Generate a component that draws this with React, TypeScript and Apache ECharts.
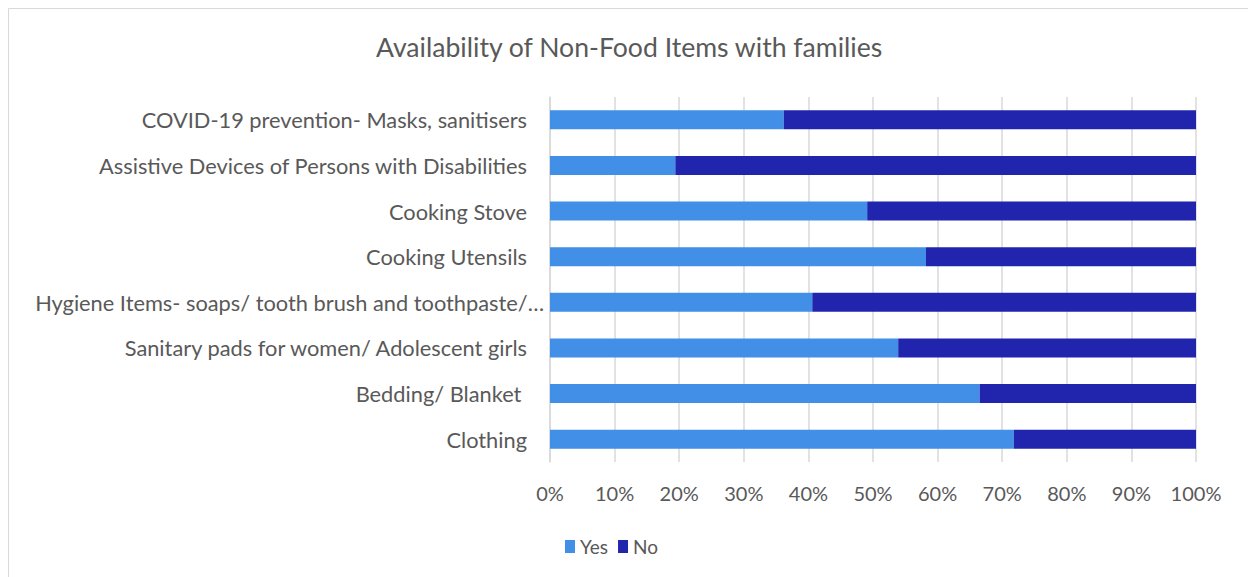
import React, { useEffect, useRef } from "react";
import * as echarts from "echarts";

const categories = [
  "COVID-19 prevention- Masks, sanitisers",
  "Assistive Devices of Persons with Disabilities",
  "Cooking Stove",
  "Cooking Utensils",
  "Hygiene Items- soaps/ tooth brush and toothpaste/…",
  "Sanitary pads for women/ Adolescent girls",
  "Bedding/ Blanket ",
  "Clothing",
];
const yesValues = [36.2, 19.4, 49.1, 58.2, 40.6, 53.9, 66.5, 71.8];
const noValues = [63.8, 80.6, 50.9, 41.8, 59.4, 46.1, 33.5, 28.2];
const seriesNames = ["Yes", "No"];
const FONT = "Lato, 'Open Sans', sans-serif";

export default function App() {
  const ref = useRef<HTMLDivElement>(null);
  useEffect(() => {
    if (!ref.current) return;
    const chart = echarts.init(ref.current, null, { renderer: "svg" });
    chart.setOption({
      animation: false,
      backgroundColor: "#ffffff",
      textStyle: { fontFamily: FONT },
      title: {
        text: "Availability of Non-Food Items with families",
        left: 371,
        top: 28,
        textStyle: { fontFamily: FONT, fontSize: 26.6, fontWeight: "normal", color: "#595959" },
      },
      graphic: [
        {
          type: "rect",
          shape: { x: 8.5, y: 8.5, width: 1300, height: 700 },
          style: { fill: "none", stroke: "#d9d9d9", lineWidth: 1 },
          silent: true,
        },
      ],
      legend: {
        data: seriesNames,
        bottom: 16,
        left: 560,
        icon: "rect",
        itemWidth: 10,
        itemHeight: 13,
        itemGap: 10,
        textStyle: { fontFamily: FONT, fontSize: 19, color: "#595959" },
      },
      grid: { left: 550, right: 52, top: 97, bottom: 115, containLabel: false },
      xAxis: {
        type: "value",
        min: 0,
        max: 100,
        interval: 10,
        axisLabel: {
          formatter: "{value}%",
          fontFamily: FONT,
          fontSize: 20,
          color: "#595959",
          margin: 21,
        },
        axisLine: { show: false },
        axisTick: { show: false },
        splitLine: { show: true, lineStyle: { color: "#d9d9d9", width: 1.5 } },
      },
      yAxis: {
        type: "category",
        data: categories,
        inverse: true,
        axisLabel: {
          fontFamily: FONT,
          fontSize: 21.8,
          color: "#595959",
          margin: 23,
          formatter: (v: string) => (v.indexOf("Hygiene") === 0 ? "{h|" + v + "}" : v),
          rich: {
            h: {
              fontFamily: FONT,
              fontSize: 21.8,
              color: "#595959",
              padding: [0, -17, 0, 0],
            },
          },
        },
        axisLine: { show: true, lineStyle: { color: "#d9d9d9", width: 1.5 } },
        axisTick: { show: false },
      },
      series: [
        {
          name: seriesNames[0],
          type: "bar",
          stack: "total",
          data: yesValues,
          barWidth: 19,
          itemStyle: { color: "#418fe6" },
        },
        {
          name: seriesNames[1],
          type: "bar",
          stack: "total",
          data: noValues,
          barWidth: 19,
          itemStyle: { color: "#2125ad" },
        },
      ],
    });
    return () => chart.dispose();
  }, []);
  return (
    <div
      ref={ref}
      style={{ position: "fixed", left: 0, top: 0, width: 1248, height: 577 }}
    />
  );
}
